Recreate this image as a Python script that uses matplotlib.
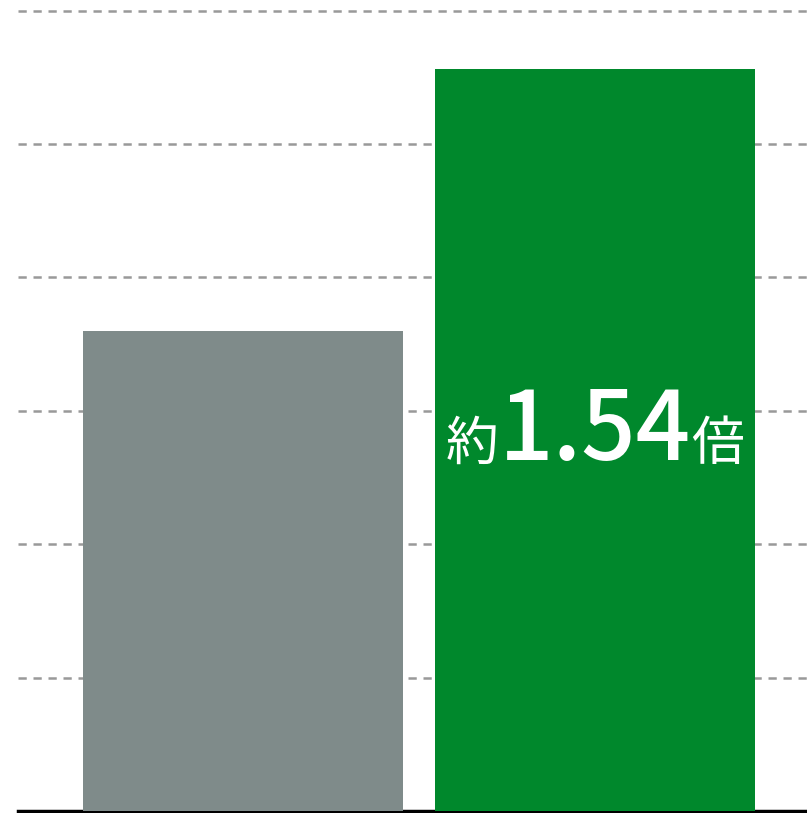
import matplotlib
matplotlib.use("Agg")
import matplotlib.pyplot as plt

categories = ["A", "B"]
values = [3.6, 5.56]
colors = ["#7f8b8a", "#00882c"]
annotation_parts = ["約", "1.54", "倍"]
grid_ticks = [1, 2, 3, 4, 5, 6]

plt.rcParams['font.family'] = ['Noto Sans CJK JP', 'DejaVu Sans']

W, H = 807, 813
fig = plt.figure(figsize=(W / 100, H / 100), dpi=100)
ax_left = 18 / W
ax_bottom = (H - 811) / H
ax = fig.add_axes([ax_left, ax_bottom, 1 - ax_left, 811 / H])

xpos = [0, 1]
ax.bar(xpos, values, width=320 / 352, color=colors, zorder=3)
ax.set_xlim(-(243 - 18) / 352, 1 + (807 - 595) / 352)
ax.set_ylim(0, 811 / 133.4)

for t in grid_ticks:
    ax.axhline(t, color="#999999", lw=1.8, ls=(0, (3.3, 2.7)), zorder=1)

for s in ["top", "right", "left"]:
    ax.spines[s].set_visible(False)
ax.spines["bottom"].set_linewidth(2.5)
ax.spines["bottom"].set_color("black")
ax.set_xticks([])
ax.set_yticks([])

# annotation composed of pieces, baseline aligned, centered on bar
sizes = [38, 69, 38]
weights = ["normal", "medium", "normal"]
fig.canvas.draw()
renderer = fig.canvas.get_renderer()
widths = []
texts = []
for part, sz, wt in zip(annotation_parts, sizes, weights):
    t = ax.text(0, 0, part, fontsize=sz, fontweight=wt, color="white",
                va="baseline", ha="left", zorder=5)
    bb = t.get_window_extent(renderer)
    widths.append(bb.width)
    texts.append(t)
total = sum(widths)
cx, cy = ax.transData.transform((1, 0))
base_y = H - 460
start = cx - total / 2
x = start
for t, w in zip(texts, widths):
    xd, yd = ax.transData.inverted().transform((x, base_y))
    t.set_position((xd, yd))
    x += w

fig.savefig("out.png", dpi=100)
